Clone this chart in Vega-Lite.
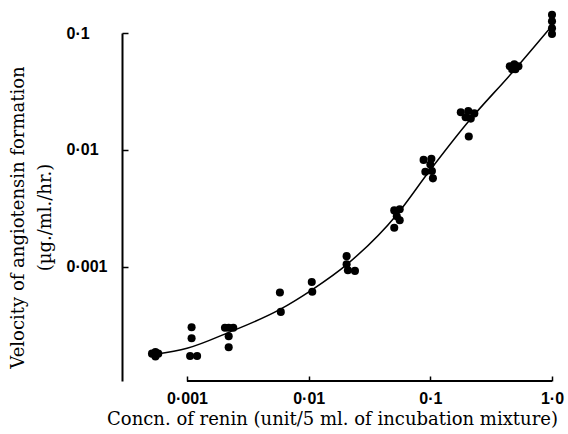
{
  "$schema": "https://vega.github.io/schema/vega-lite/v6.json",
  "width": 430,
  "height": 348,
  "autosize": {"type": "none"},
  "padding": {"left": 122, "top": 33, "right": 16, "bottom": 53},
  "background": "white",
  "config": {"view": {"stroke": null}},
  "datasets": {
    "points": [
      {"renin": 0.000515, "velocity": 0.00018},
      {"renin": 0.00058, "velocity": 0.00018},
      {"renin": 0.00055, "velocity": 0.000186},
      {"renin": 0.00055, "velocity": 0.00017},
      {"renin": 0.00109, "velocity": 0.000303},
      {"renin": 0.00109, "velocity": 0.000244},
      {"renin": 0.00106, "velocity": 0.000172},
      {"renin": 0.00121, "velocity": 0.000172},
      {"renin": 0.00205, "velocity": 0.0003},
      {"renin": 0.0022, "velocity": 0.0003},
      {"renin": 0.0024, "velocity": 0.0003},
      {"renin": 0.0022, "velocity": 0.000254},
      {"renin": 0.0022, "velocity": 0.000204},
      {"renin": 0.0058, "velocity": 0.0006},
      {"renin": 0.0059, "velocity": 0.00041},
      {"renin": 0.0106, "velocity": 0.00074},
      {"renin": 0.0107, "velocity": 0.00061},
      {"renin": 0.0205, "velocity": 0.00123},
      {"renin": 0.0205, "velocity": 0.00105},
      {"renin": 0.021, "velocity": 0.00093},
      {"renin": 0.024, "velocity": 0.00092},
      {"renin": 0.0505, "velocity": 0.00303},
      {"renin": 0.056, "velocity": 0.0031},
      {"renin": 0.053, "velocity": 0.0027},
      {"renin": 0.056, "velocity": 0.0025},
      {"renin": 0.0505, "velocity": 0.00215},
      {"renin": 0.088, "velocity": 0.0082},
      {"renin": 0.102, "velocity": 0.0084},
      {"renin": 0.091, "velocity": 0.0065},
      {"renin": 0.103, "velocity": 0.0066},
      {"renin": 0.105, "velocity": 0.0057},
      {"renin": 0.1, "velocity": 0.0075},
      {"renin": 0.178, "velocity": 0.021},
      {"renin": 0.205, "velocity": 0.0215},
      {"renin": 0.23, "velocity": 0.0205},
      {"renin": 0.195, "velocity": 0.019},
      {"renin": 0.215, "velocity": 0.0185},
      {"renin": 0.207, "velocity": 0.013},
      {"renin": 0.45, "velocity": 0.052},
      {"renin": 0.49, "velocity": 0.054},
      {"renin": 0.53, "velocity": 0.052},
      {"renin": 0.5, "velocity": 0.049},
      {"renin": 0.47, "velocity": 0.049},
      {"renin": 1.0, "velocity": 0.143},
      {"renin": 1.0, "velocity": 0.126},
      {"renin": 1.0, "velocity": 0.11},
      {"renin": 1.0, "velocity": 0.098}
    ],
    "curve": [
      {"renin": 0.000546, "velocity": 0.000178},
      {"renin": 0.001, "velocity": 0.0002},
      {"renin": 0.00221, "velocity": 0.000274},
      {"renin": 0.00581, "velocity": 0.000431},
      {"renin": 0.01064, "velocity": 0.000634},
      {"renin": 0.02065, "velocity": 0.001047},
      {"renin": 0.0532, "velocity": 0.0028},
      {"renin": 0.0975, "velocity": 0.00652},
      {"renin": 0.1963, "velocity": 0.0165},
      {"renin": 0.4864, "velocity": 0.0477},
      {"renin": 1.0, "velocity": 0.1153}
    ],
    "xaxisline": [
      {"from": 0.001, "to": 1.0, "base": 0.000105}
    ]
  },
  "layer": [
    {
      "data": {"name": "xaxisline"},
      "mark": {"type": "rule", "color": "black", "strokeWidth": 2},
      "encoding": {
        "x": {
          "field": "from", "type": "quantitative",
          "scale": {"type": "log", "domain": [0.000292, 1], "nice": false},
          "axis": {
            "title": "Concn. of renin (unit/5 ml. of incubation mixture)",
            "values": [0.001, 0.01, 0.1, 1],
            "labelExpr": "datum.value == 1 ? '1·0' : replace(format(datum.value, '~g'), '.', '·')",
            "domain": false,
            "grid": false,
            "tickSize": -5,
            "tickColor": "black",
            "tickWidth": 1.5,
            "labelFont": "Liberation Sans",
            "labelFontWeight": "bold",
            "labelFontSize": 16,
            "labelColor": "black",
            "labelPadding": 14,
            "labelFlush": false,
            "titleFont": "DejaVu Serif",
            "titleFontSize": 18,
            "titleFontWeight": "normal",
            "titleColor": "black",
            "titleX": 210,
            "titleY": 38,
            "titleBaseline": "middle",
            "titleAlign": "center"
          }
        },
        "x2": {"field": "to"},
        "y": {
          "field": "base", "type": "quantitative",
          "scale": {"type": "log", "domain": [0.000105, 0.1], "nice": false},
          "axis": {
            "title": ["Velocity of angiotensin formation", "(µg./ml./hr.)"],
            "values": [0.001, 0.01, 0.1],
            "labelExpr": "replace(format(datum.value, '~g'), '.', '·')",
            "domain": true,
            "domainColor": "black",
            "domainWidth": 2,
            "grid": false,
            "tickSize": -6,
            "tickColor": "black",
            "tickWidth": 1.5,
            "labelFont": "Liberation Sans",
            "labelFontWeight": "bold",
            "labelFontSize": 16,
            "labelColor": "black",
            "labelAlign": "left",
            "labelBaseline": "middle",
            "labelPadding": 62,
            "labelFlush": false,
            "titleFont": "DejaVu Serif",
            "titleFontSize": 18,
            "titleFontWeight": "normal",
            "titleColor": "black",
            "titleAngle": -90,
            "titleX": -104,
            "titleY": 184,
            "titleBaseline": "middle",
            "titleAlign": "center",
            "titleLineHeight": 27
          }
        }
      }
    },
    {
      "data": {"name": "curve"},
      "mark": {"type": "line", "color": "black", "strokeWidth": 1.5, "interpolate": "monotone"},
      "encoding": {
        "x": {"field": "renin", "type": "quantitative"},
        "y": {"field": "velocity", "type": "quantitative"}
      }
    },
    {
      "data": {"name": "points"},
      "mark": {"type": "circle", "color": "black", "opacity": 1, "size": 65},
      "encoding": {
        "x": {"field": "renin", "type": "quantitative"},
        "y": {"field": "velocity", "type": "quantitative"}
      }
    }
  ]
}
